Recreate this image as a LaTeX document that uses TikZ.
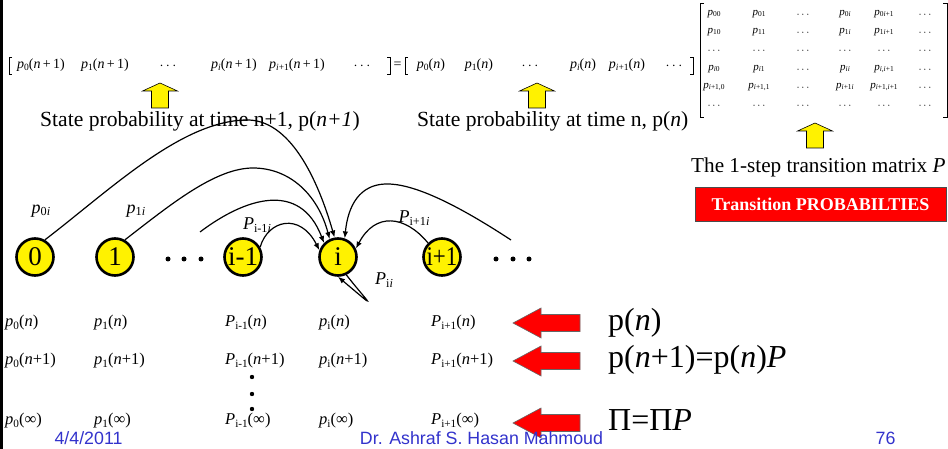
\documentclass[tikz,border=0pt]{standalone}
\usepackage{fontspec}
\setmainfont{Liberation Serif}
\newfontfamily\arialf{Liberation Sans}
\usepackage{graphicx}
\usetikzlibrary{arrows.meta}
\definecolor{footblue}{RGB}{51,51,204}
\newcommand{\sub}[1]{\raisebox{-0.3ex}{\scalebox{0.68}{#1}}}
\newcommand{\ip}{\textit{p}}
\newcommand{\iP}{\textit{P}}
\newcommand{\ii}{\textit{i}}
\newcommand{\cd}{$\cdots$}
\newcommand{\pe}[1]{\textit{p}\sub{#1}}
\tikzset{
 state/.style={circle, draw=black, line width=2.6pt, fill=yellow, minimum size=37pt, inner sep=0pt, font=\fontsize{27}{27}\selectfont},
 arc/.style={line width=1.2pt, -{Latex[length=7pt,width=5.5pt]}},
 eqt/.style={font=\fontsize{14}{16}\selectfont, inner sep=0pt},
 mt/.style={font=\fontsize{11}{13}\selectfont, inner sep=0pt},
 captxt/.style={font=\fontsize{21.6}{24}\selectfont, inner sep=0pt, anchor=base west},
 lbl/.style={font=\fontsize{18}{20}\selectfont, inner sep=0pt},
 rowt/.style={font=\fontsize{16.5}{18}\selectfont, inner sep=0pt, anchor=west},
 bigt/.style={font=\fontsize{32}{34}\selectfont, inner sep=0pt, anchor=west},
 foot/.style={font=\arialf\fontsize{17.8}{19}\selectfont, text=footblue, inner sep=0pt, anchor=base},
 yarr/.style={fill=yellow, draw=black, line width=0.6pt},
 rarr/.style={fill=red, draw=black!60, line width=0.6pt},
 brk/.style={line width=0.6pt},
 dotf/.style={fill=black},
}
\begin{document}
\begin{tikzpicture}[x=1pt,y=-1pt]
\useasboundingbox (0,0) rectangle (948,449);
\fill[white] (0,0) rectangle (948,449);
\fill[black] (0,0) rectangle (2.5,449);

% ---- top equation ----
\draw[brk] (12,57) -- (9,57) -- (9,74) -- (12,74);
\node[eqt] (e1) at (41,65) {\pe{0}(\textit{n}\,+\,1)};
\node[eqt] (e2) at (105,65) {\pe{1}(\textit{n}\,+\,1)};
\node[eqt] (e3) at (168,66) {\cd};
\node[eqt] (e4) at (234,65) {\pe{\ii}(\textit{n}\,+\,1)};
\node[eqt] (e5) at (297,65) {\pe{\ii+1}(\textit{n}\,+\,1)};
\node[eqt] (e6) at (362,66) {\cd};
\draw[brk] (387,57) -- (390,57) -- (390,74) -- (387,74);
\node[eqt] (eq) at (397.5,65) {=};
\draw[brk] (408,57) -- (405,57) -- (405,74) -- (408,74);
\node[eqt] (f1) at (431,65) {\pe{0}(\textit{n})};
\node[eqt] (f2) at (479,65) {\pe{1}(\textit{n})};
\node[eqt] (f3) at (530,66) {\cd};
\node[eqt] (f4) at (583,65) {\pe{\ii}(\textit{n})};
\node[eqt] (f5) at (627,65) {\pe{\ii+1}(\textit{n})};
\node[eqt] (f6) at (674,66) {\cd};
\draw[brk] (690,57) -- (693,57) -- (693,74) -- (690,74);

% ---- matrix ----
\draw[brk] (704,3) -- (700,3) -- (700,117) -- (704,117);
\draw[brk] (943,3) -- (947,3) -- (947,117) -- (943,117);
\node[mt] (m11) at (714,14) {\pe{00}};
\node[mt] (m12) at (759,14) {\pe{01}};
\node[mt] (m13) at (803,15) {\cd};
\node[mt] (m14) at (845,14) {\pe{0\ii}};
\node[mt] (m15) at (884,14) {\pe{0\ii+1}};
\node[mt] (m16) at (925,15) {\cd};
\node[mt] (m21) at (714,32) {\pe{10}};
\node[mt] (m22) at (759,32) {\pe{11}};
\node[mt] (m23) at (803,33) {\cd};
\node[mt] (m24) at (845,32) {\pe{1\ii}};
\node[mt] (m25) at (884,32) {\pe{1\ii+1}};
\node[mt] (m26) at (925,33) {\cd};
\node[mt] (m31) at (714,51) {\cd};
\node[mt] (m32) at (759,51) {\cd};
\node[mt] (m33) at (803,51) {\cd};
\node[mt] (m34) at (845,51) {\cd};
\node[mt] (m35) at (884,51) {\cd};
\node[mt] (m36) at (925,51) {\cd};
\node[mt] (m41) at (714,69) {\pe{\ii0}};
\node[mt] (m42) at (759,69) {\pe{\ii1}};
\node[mt] (m43) at (803,70) {\cd};
\node[mt] (m44) at (845,69) {\pe{\ii\ii}};
\node[mt] (m45) at (884,69) {\pe{\ii,\ii+1}};
\node[mt] (m46) at (925,70) {\cd};
\node[mt] (m51) at (714,87) {\pe{\ii+1,0}};
\node[mt] (m52) at (759,87) {\pe{\ii+1,1}};
\node[mt] (m53) at (803,88) {\cd};
\node[mt] (m54) at (845,87) {\pe{\ii+1\ii}};
\node[mt] (m55) at (884,87) {\pe{\ii+1,\ii+1}};
\node[mt] (m56) at (925,88) {\cd};
\node[mt] (m61) at (714,106) {\cd};
\node[mt] (m62) at (759,106) {\cd};
\node[mt] (m63) at (803,106) {\cd};
\node[mt] (m64) at (845,106) {\cd};
\node[mt] (m65) at (884,106) {\cd};
\node[mt] (m66) at (925,106) {\cd};

% ---- yellow arrows ----
\draw[yarr] (151.5,108) -- (151.5,91) -- (142.5,91) -- (160,83) -- (177.5,91) -- (168.5,91) -- (168.5,108) -- cycle;
\draw[yarr] (528.5,108) -- (528.5,91) -- (519.5,91) -- (537,83) -- (554.5,91) -- (545.5,91) -- (545.5,108) -- cycle;
\draw[yarr] (806.5,148) -- (806.5,131) -- (797.5,131) -- (815,123) -- (832.5,131) -- (823.5,131) -- (823.5,148) -- cycle;

% ---- captions ----
\node[captxt] (c1) at (40,127) {State probability at time n+1, p(\textit{n+1})};
\node[captxt] (c2) at (417,127) {State probability at time n, p(\textit{n})};
\node[captxt, font=\fontsize{21.2}{24}\selectfont] (c3) at (691,173) {The 1-step transition matrix \textit{P}};
\node[draw=black!70, line width=0.8pt, fill=red, minimum width=251pt, minimum height=34pt, inner sep=0pt,
      text=white, font=\bfseries\fontsize{18}{20}\selectfont] (tp) at (820.5,204) {Transition PROBABILTIES};

% ---- states ----
\node[state] (n0) at (35,257) {0};
\node[state] (n1) at (115,257) {1};
\node[state] (nim) at (243,257) {i-1};
\node[state] (ni) at (338,257) {i};
\node[state] (nip) at (442,257) {\scalebox{0.85}[1]{i+1}};
\foreach \xx in {168,184,201,496,513,529} \fill[dotf] (\xx,259) circle (2.5);
\coordinate (dl) at (200,232);
\coordinate (dr) at (511,240);

% ---- transitions into i ----
\draw[arc] (n0.60) .. controls (110,190) and (180,122) .. (245,120) .. controls (290,118) and (318,180) .. (ni.100);
\draw[arc] (n1.60) .. controls (170,205) and (215,168) .. (253,168) .. controls (290,168) and (318,195) .. (ni.115);
\draw[arc] (dl) .. controls (245,198) and (300,180) .. (ni.135);
\draw[arc] (nim.30) .. controls (268,220) and (300,212) .. (ni.160);
\draw[arc] (nip.135) .. controls (405,215) and (375,212) .. (ni.25);
\draw[arc] (dr) .. controls (450,200) and (410,183) .. (385,184) .. controls (360,185) and (348,205) .. (ni.70);
\draw[arc] (ni.-65) .. controls (370,305) and (380,312) .. (ni.-90);

% ---- edge labels ----
\node[lbl] (l0) at (41,211) {\ip\sub{0\ii}};
\node[lbl] (l1) at (136,211) {\ip\sub{1\ii}};
\node[lbl] (l2) at (257,225) {\iP\sub{i-1\ii}};
\node[lbl] (l3) at (414,218) {\iP\sub{i+1\ii}};
\node[lbl] (l4) at (384,280) {\iP\sub{i\ii}};

% ---- probability rows ----
\node[rowt] (r11) at (5,323) {\ip\sub{0}(\textit{n})};
\node[rowt] (r12) at (94,323) {\ip\sub{1}(\textit{n})};
\node[rowt] (r13) at (225,323) {\iP\sub{i-1}(\textit{n})};
\node[rowt] (r14) at (319,323) {\ip\sub{i}(\textit{n})};
\node[rowt] (r15) at (431,323) {\iP\sub{i+1}(\textit{n})};
\node[rowt] (r21) at (5,361) {\ip\sub{0}(\textit{n}+1)};
\node[rowt] (r22) at (94,361) {\ip\sub{1}(\textit{n}+1)};
\node[rowt] (r23) at (225,361) {\iP\sub{i-1}(\textit{n}+1)};
\node[rowt] (r24) at (319,361) {\ip\sub{i}(\textit{n}+1)};
\node[rowt] (r25) at (431,361) {\iP\sub{i+1}(\textit{n}+1)};
\node[rowt] (r31) at (5,421) {\ip\sub{0}(∞)};
\node[rowt] (r32) at (94,421) {\ip\sub{1}(∞)};
\node[rowt] (r33) at (225,421) {\iP\sub{i-1}(∞)};
\node[rowt] (r34) at (319,421) {\ip\sub{i}(∞)};
\node[rowt] (r35) at (431,421) {\iP\sub{i+1}(∞)};
\foreach \yy in {377,394,409} \fill[dotf] (252,\yy) circle (2.2);

% ---- red arrows ----
\foreach \yy in {323,361,423}
  \draw[rarr] (513,\yy) -- (541,\yy-15) -- (541,\yy-8.5) -- (580,\yy-8.5) -- (580,\yy+8.5) -- (541,\yy+8.5) -- (541,\yy+15) -- cycle;

\node[bigt] (b1) at (608,323) {p(\textit{n})};
\node[bigt] (b2) at (608,360) {p(\textit{n}+1)=p(\textit{n})\textit{P}};
\node[bigt] (b3) at (608,420) {Π=Π\textit{P}};

% ---- footer ----
\node[foot] (ft1) at (88.5,444.5) {4/4/2011};
\node[foot] (ft2) at (481.5,444.5) {Dr. Ashraf S. Hasan Mahmoud};
\node[foot] (ft3) at (885.5,444.5) {76};
\end{tikzpicture}
\end{document}
